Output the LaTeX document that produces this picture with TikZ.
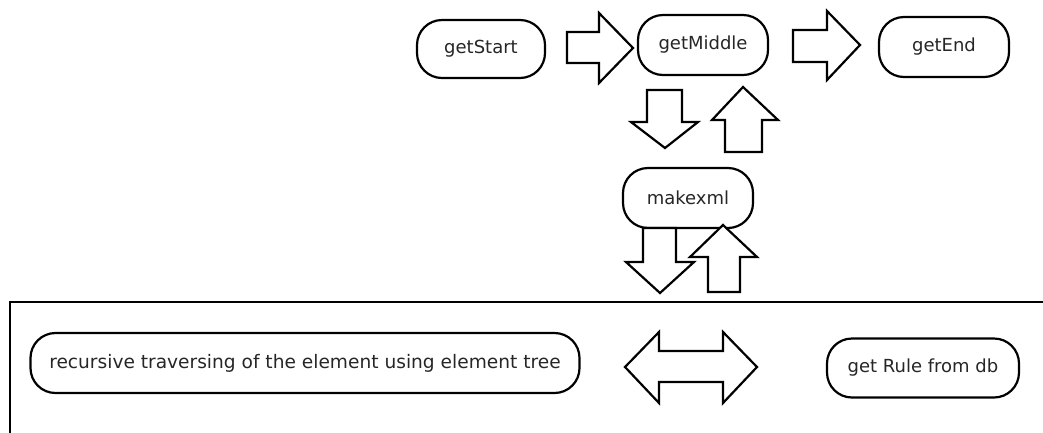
\documentclass[tikz,border=0pt]{standalone}
\usepackage{fontspec}
\setmainfont{DejaVu Sans}
\begin{document}
\begin{tikzpicture}[x=1pt,y=-1pt,
  pill/.style={draw, line width=2.2pt, rounded corners=25pt, inner sep=0pt,
    font=\fontsize{18}{21}\selectfont, text=black!85},
  blockarrow/.style={draw, line width=2.2pt, fill=white, line join=miter}]
\useasboundingbox (0,0) rectangle (1043,432);

% top row of stages
\node[pill, minimum width=128, minimum height=58] (start) at (481,49) {getStart};
\node[pill, minimum width=130, minimum height=60] (middle) at (703,45) {getMiddle};
\node[pill, minimum width=130, minimum height=60] (end) at (944,47) {getEnd};
\node[pill, minimum width=130, minimum height=60] (xml) at (688,198) {makexml};

% start -> middle
\draw[blockarrow] (567,32) -- (599,32) -- (599,13) -- (633,48) -- (599,83) -- (599,63) -- (567,63) -- cycle;
% middle -> end
\draw[blockarrow] (793,30) -- (827,30) -- (827,11) -- (860,45) -- (827,80) -- (827,62) -- (793,62) -- cycle;

% middle <-> makexml
\draw[blockarrow] (647,90) -- (682,90) -- (682,122) -- (698,122) -- (665,148) -- (631,122) -- (647,122) -- cycle;
\draw[blockarrow] (725,152) -- (762,152) -- (762,120) -- (778,120) -- (743,87) -- (712,120) -- (725,120) -- cycle;

% makexml <-> lower block
\draw[blockarrow] (643,228) -- (676,228) -- (676,262) -- (694,262) -- (660,293) -- (626,262) -- (643,262) -- cycle;
\draw[blockarrow] (708,292) -- (740,292) -- (740,257) -- (757,257) -- (723,225) -- (690,257) -- (708,257) -- cycle;

% lower container
\draw[line width=2.2pt] (1050,302) -- (10,302) -- (10,440);

\node[pill, minimum width=549, minimum height=60, font=\fontsize{18.6}{21}\selectfont] (walk) at (305,363)
  {recursive traversing of the element using element tree};
\node[pill, minimum width=192, minimum height=59] (rule) at (923,368)
  {get Rule from db};

% walk <-> rule
\draw[blockarrow] (625,367) -- (659,332) -- (659,351) -- (723,351) -- (723,332) -- (757,367)
  -- (723,403) -- (723,382) -- (659,382) -- (659,403) -- cycle;
\end{tikzpicture}
\end{document}
